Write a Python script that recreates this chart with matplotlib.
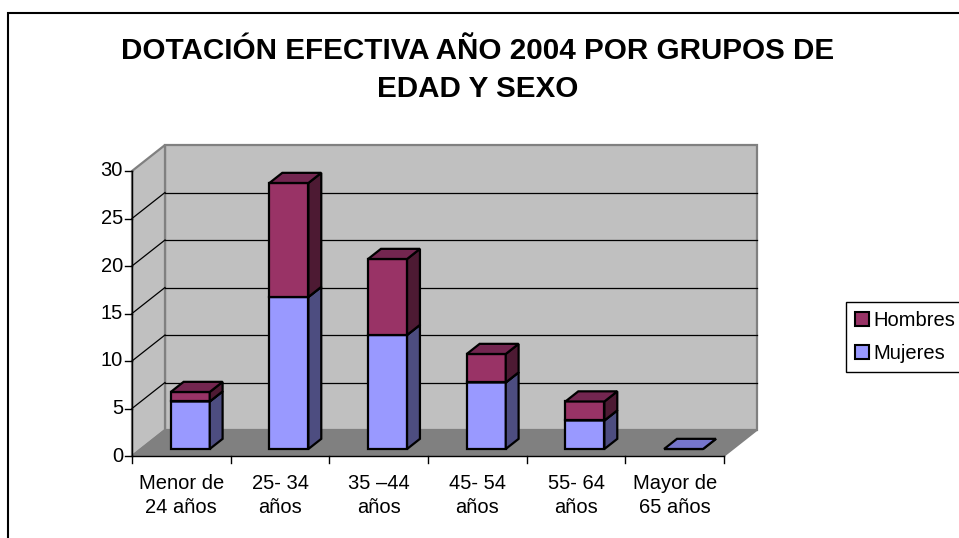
import matplotlib
matplotlib.use('Agg')
import matplotlib.pyplot as plt
from matplotlib.patches import Polygon, Rectangle, Patch

plt.rcParams['font.family'] = ['Liberation Sans', 'DejaVu Sans']

# data
categorias = ['Menor de\n24 años', '25- 34\naños', '35 \u201344\naños', '45- 54\naños', '55- 64\naños', 'Mayor de\n65 años']
mujeres = [5, 16, 12, 7, 3, 0]
hombres = [1, 12, 8, 3, 2, 0]
yticks = [0, 5, 10, 15, 20, 25, 30]
titulo = 'DOTACIÓN EFECTIVA AÑO 2004 POR GRUPOS DE\nEDAD Y SEXO'

# colores (frente, lateral, tapa)
col_muj = ('#9999ff', '#4d4d80', '#7676cc')
col_hom = ('#993366', '#4d1a33', '#732650')

W, H = 959, 538
fig = plt.figure(figsize=(W / 100, H / 100), dpi=100)

# pixel layout of the front plane
X0PX, CATPX = 132, 98.67
Y0PX, UNITPX = 456, 9.5
DX = 33 / CATPX      # depth offset in category units
DY = 26 / UNITPX     # depth offset in value units
ymax = 30
ncat = len(categorias)

left, right, top, bottom = 100, 800, 130, 470
ax = fig.add_axes([left / W, 1 - bottom / H, (right - left) / W, (bottom - top) / H])
ax.set_xlim((left - X0PX) / CATPX, (right - X0PX) / CATPX)
ax.set_ylim((Y0PX - bottom) / UNITPX, (Y0PX - top) / UNITPX)
ax.axis('off')


def P(x, v, d):
    return (x + d * DX, v + d * DY)


def poly(pts, fc, ec, lw, z):
    ax.add_patch(Polygon(pts, closed=True, facecolor=fc, edgecolor=ec,
                         linewidth=lw, zorder=z, joinstyle='miter'))


# walls and floor
poly([P(0, 0, 1), P(ncat, 0, 1), P(ncat, ymax, 1), P(0, ymax, 1)], '#c0c0c0', '#808080', 1.6, 1)
poly([P(0, 0, 0), P(0, 0, 1), P(0, ymax, 1), P(0, ymax, 0)], '#c0c0c0', '#808080', 1.6, 1)
poly([P(0, 0, 0), P(ncat, 0, 0), P(ncat, 0, 1), P(0, 0, 1)], '#808080', '#808080', 1.2, 2)

# gridlines
for v in yticks[1:-1]:
    x1, y1 = P(0, v, 1)
    x2, y2 = P(ncat, v, 1)
    ax.plot([x1, x2], [y1, y2], color='black', lw=0.9, zorder=3)
    ax.plot([0, x1], [v, y1], color='black', lw=0.9, zorder=3)

# bars
bw = 0.395
d0, d1 = 0.27, 0.66


def segmento(c, v0, v1, cols):
    xl, xr = c - bw / 2, c + bw / 2
    z = 5
    poly([P(xl, v0, d0), P(xr, v0, d0), P(xr, v1, d0), P(xl, v1, d0)], cols[0], 'black', 1.6, z)
    poly([P(xr, v0, d0), P(xr, v0, d1), P(xr, v1, d1), P(xr, v1, d0)], cols[1], 'black', 1.6, z)
    poly([P(xl, v1, d0), P(xr, v1, d0), P(xr, v1, d1), P(xl, v1, d1)], cols[2], 'black', 1.6, z)


for i in range(ncat):
    c = i + 0.5
    segmento(c, 0, mujeres[i], col_muj)
    if hombres[i] > 0:
        segmento(c, mujeres[i], mujeres[i] + hombres[i], col_hom)

# axes lines
tx = 7 / CATPX
ty = 7 / UNITPX
fs = 14.5
ax.plot([0, 0], [0, ymax], color='black', lw=1.0, zorder=6)
for v in yticks:
    ax.plot([-tx, 0], [v, v], color='black', lw=1.0, zorder=6)
    ax.text(-9 / CATPX, v, str(v), ha='right', va='center', fontsize=fs)
ax.plot([0, ncat], [0, 0], color='black', lw=1.0, zorder=6)
for i in range(ncat + 1):
    ax.plot([i, i], [0, -ty], color='black', lw=1.0, zorder=6)
for i, lab in enumerate(categorias):
    ax.text(i + 0.5, -1.85, lab, ha='center', va='top', fontsize=fs, linespacing=1.38)

# title
fig.text(478 / W, 1 - 70 / H, titulo, ha='center', va='center', fontsize=21.3,
         fontweight='bold', linespacing=1.42)

# legend
handles = [Patch(facecolor=col_hom[0], edgecolor='black', linewidth=1.5, label='Hombres'),
           Patch(facecolor=col_muj[0], edgecolor='black', linewidth=1.5, label='Mujeres')]
leg = fig.legend(handles=handles, loc='upper left', bbox_to_anchor=(846 / W, 1 - 302 / H),
                 fontsize=fs, frameon=True, fancybox=False, edgecolor='black',
                 framealpha=1, handlelength=0.7, handleheight=0.7, handletextpad=0.2,
                 labelspacing=0.7, borderpad=0.45, borderaxespad=0)
leg.get_frame().set_linewidth(1.0)

# chart border
fig.add_artist(Rectangle((8 / W, -0.1), 1.2, 1 - 13 / H + 0.1, transform=fig.transFigure,
                         facecolor='none', edgecolor='black', linewidth=1.5))

fig.savefig('out.png', dpi=100)
